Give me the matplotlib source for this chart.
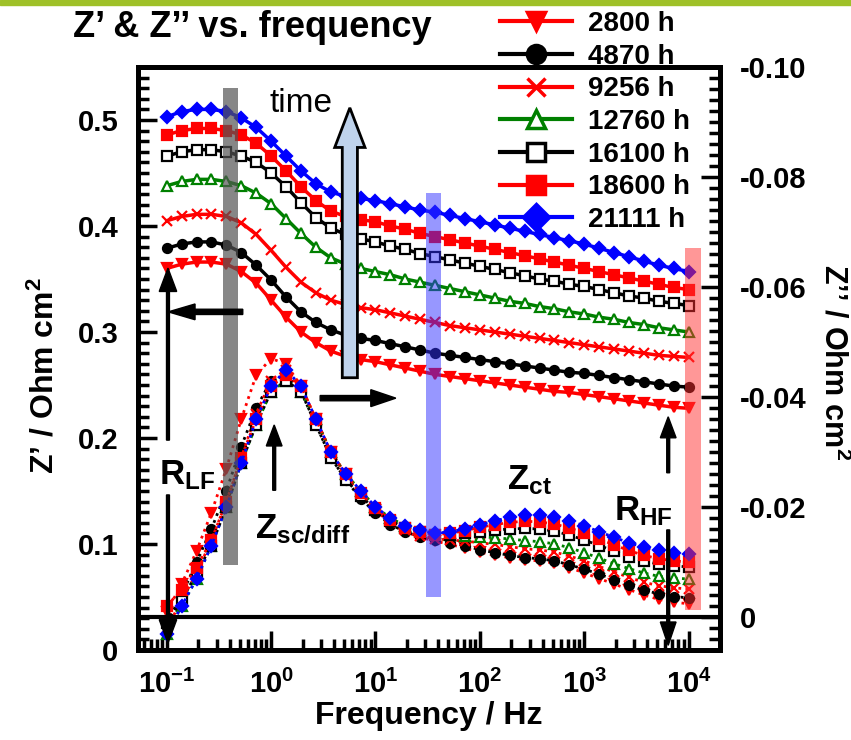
import numpy as np
import matplotlib
matplotlib.use("Agg")
import matplotlib.pyplot as plt
from matplotlib.lines import Line2D
from matplotlib.patches import FancyArrow, Rectangle
from matplotlib.ticker import MultipleLocator, LogLocator, NullFormatter, FuncFormatter, FixedLocator

plt.rcParams['font.family'] = ['Liberation Sans', 'DejaVu Sans']
plt.rcParams['font.weight'] = 'bold'
plt.rcParams['axes.labelweight'] = 'bold'
plt.rcParams['mathtext.fontset'] = 'custom'
plt.rcParams['mathtext.rm'] = 'Liberation Sans:bold'
plt.rcParams['mathtext.it'] = 'Liberation Sans:bold'
plt.rcParams['mathtext.bf'] = 'Liberation Sans:bold'
plt.rcParams['mathtext.default'] = 'rm'

############################################
### measured frequencies (Hz)
freq = [0.1, 0.139, 0.193, 0.268, 0.373, 0.518, 0.72,
        1.0, 1.39, 1.93, 2.68, 3.73, 5.18, 7.2,
        10, 13.9, 19.3, 26.8, 37.3, 51.8, 72,
        100, 139, 193, 268, 373, 518, 720,
        1000, 1390, 1930, 2680, 3730, 5180, 7200, 10000]

labels = ["2800 h", "4870 h", "9256 h", "12760 h", "16100 h", "18600 h", "21111 h"]

### Z' (Ohm cm2), left axis
zr_2800 = [0.360, 0.364, 0.366, 0.366, 0.364, 0.357, 0.346, 0.330, 0.314, 0.300, 0.290, 0.282,
           0.277, 0.274, 0.272, 0.269, 0.266, 0.263, 0.260, 0.258, 0.256, 0.254, 0.252, 0.250,
           0.248, 0.246, 0.244, 0.243, 0.241, 0.239, 0.237, 0.235, 0.233, 0.231, 0.229, 0.228]
zr_4870 = [0.379, 0.383, 0.385, 0.385, 0.382, 0.375, 0.363, 0.349, 0.333, 0.319, 0.309, 0.302,
           0.297, 0.294, 0.292, 0.289, 0.286, 0.283, 0.280, 0.278, 0.276, 0.274, 0.272, 0.270,
           0.268, 0.266, 0.264, 0.262, 0.261, 0.259, 0.257, 0.255, 0.253, 0.251, 0.249, 0.248]
zr_9256 = [0.405, 0.409, 0.411, 0.411, 0.409, 0.403, 0.392, 0.377, 0.361, 0.347, 0.337, 0.330,
           0.326, 0.323, 0.321, 0.318, 0.315, 0.312, 0.309, 0.306, 0.304, 0.302, 0.300, 0.298,
           0.296, 0.294, 0.292, 0.290, 0.288, 0.286, 0.284, 0.282, 0.280, 0.278, 0.277, 0.276]
zr_12760 = [0.438, 0.442, 0.444, 0.444, 0.442, 0.438, 0.431, 0.421, 0.407, 0.393, 0.380, 0.370,
            0.364, 0.360, 0.357, 0.354, 0.350, 0.347, 0.344, 0.341, 0.338, 0.335, 0.332, 0.329,
            0.327, 0.324, 0.322, 0.319, 0.317, 0.314, 0.312, 0.309, 0.307, 0.304, 0.302, 0.300]
zr_16100 = [0.466, 0.470, 0.472, 0.472, 0.470, 0.466, 0.460, 0.450, 0.437, 0.422, 0.408, 0.398,
            0.392, 0.388, 0.385, 0.381, 0.378, 0.374, 0.371, 0.368, 0.365, 0.362, 0.359, 0.356,
            0.353, 0.350, 0.348, 0.345, 0.343, 0.340, 0.337, 0.334, 0.332, 0.329, 0.327, 0.325]
zr_18600 = [0.486, 0.490, 0.492, 0.492, 0.490, 0.486, 0.478, 0.466, 0.452, 0.437, 0.424, 0.414,
            0.409, 0.406, 0.404, 0.400, 0.397, 0.393, 0.390, 0.387, 0.384, 0.381, 0.378, 0.375,
            0.372, 0.369, 0.366, 0.363, 0.360, 0.357, 0.354, 0.351, 0.348, 0.345, 0.342, 0.340]
zr_21111 = [0.503, 0.508, 0.510, 0.510, 0.508, 0.502, 0.493, 0.480, 0.466, 0.452, 0.440, 0.432,
            0.428, 0.426, 0.424, 0.421, 0.418, 0.415, 0.413, 0.410, 0.407, 0.404, 0.401, 0.398,
            0.395, 0.392, 0.389, 0.386, 0.383, 0.379, 0.375, 0.371, 0.367, 0.363, 0.360, 0.357]

### Z'' (Ohm cm2), right axis
zi_2800 = [-0.001, -0.006, -0.012, -0.019, -0.027, -0.036, -0.044, -0.047, -0.046, -0.042, -0.036, -0.030,
           -0.026, -0.022, -0.0195, -0.017, -0.0155, -0.0145, -0.0138, -0.0132, -0.0125, -0.0118, -0.0112, -0.0108,
           -0.0104, -0.0102, -0.0098, -0.0090, -0.0080, -0.0070, -0.0060, -0.0050, -0.0040, -0.0032, -0.0027, -0.0024]
zi_4870 = [0.001, -0.004, -0.010, -0.016, -0.023, -0.031, -0.038, -0.043, -0.044, -0.041, -0.035, -0.029,
           -0.025, -0.0215, -0.019, -0.0168, -0.0155, -0.0146, -0.0140, -0.0135, -0.0130, -0.0122, -0.0117, -0.0112,
           -0.0108, -0.0106, -0.0102, -0.0095, -0.0087, -0.0078, -0.0068, -0.0058, -0.0049, -0.0042, -0.0037, -0.0035]
zi_9256 = [0.002, -0.003, -0.008, -0.014, -0.021, -0.029, -0.037, -0.043, -0.045, -0.042, -0.036, -0.030,
           -0.026, -0.022, -0.0195, -0.0172, -0.0158, -0.0148, -0.0142, -0.0140, -0.0138, -0.0135, -0.0132, -0.0128,
           -0.0124, -0.0122, -0.0118, -0.0111, -0.0102, -0.0092, -0.0082, -0.0072, -0.0063, -0.0057, -0.0053, -0.0051]
zi_12760 = [0.003, -0.002, -0.007, -0.013, -0.020, -0.028, -0.035, -0.041, -0.043, -0.041, -0.036, -0.030,
            -0.026, -0.023, -0.020, -0.018, -0.0166, -0.0158, -0.0153, -0.0150, -0.0148, -0.0146, -0.0144, -0.0142,
            -0.0139, -0.0137, -0.0133, -0.0126, -0.0117, -0.0107, -0.0097, -0.0088, -0.0080, -0.0074, -0.0071, -0.0069]
zi_16100 = [0.001, -0.003, -0.008, -0.013, -0.020, -0.028, -0.035, -0.041, -0.043, -0.041, -0.035, -0.029,
            -0.025, -0.022, -0.0195, -0.0175, -0.0162, -0.0155, -0.0150, -0.0150, -0.0152, -0.0155, -0.0158, -0.0160,
            -0.0161, -0.0160, -0.0156, -0.0149, -0.0140, -0.0130, -0.0120, -0.0110, -0.0102, -0.0096, -0.0093, -0.0091]
zi_18600 = [-0.002, -0.005, -0.009, -0.014, -0.021, -0.029, -0.036, -0.042, -0.044, -0.042, -0.036, -0.030,
            -0.026, -0.0225, -0.0198, -0.0176, -0.0162, -0.0154, -0.0150, -0.0152, -0.0157, -0.0163, -0.0168, -0.0172,
            -0.0174, -0.0173, -0.0169, -0.0162, -0.0153, -0.0142, -0.0131, -0.0121, -0.0112, -0.0106, -0.0102, -0.0100]
zi_21111 = [0.003, -0.002, -0.007, -0.013, -0.020, -0.028, -0.036, -0.042, -0.045, -0.042, -0.036, -0.030,
            -0.026, -0.023, -0.020, -0.018, -0.0165, -0.0158, -0.0152, -0.0155, -0.0160, -0.0168, -0.0175, -0.0181,
            -0.0186, -0.0186, -0.0182, -0.0175, -0.0166, -0.0155, -0.0145, -0.0135, -0.0127, -0.0121, -0.0117, -0.0115]

zr_all = [zr_2800, zr_4870, zr_9256, zr_12760, zr_16100, zr_18600, zr_21111]
zi_all = [zi_2800, zi_4870, zi_9256, zi_12760, zi_16100, zi_18600, zi_21111]
############################################
colors  = ["red", "black", "red", "green", "black", "red", "blue"]
markers = ["v", "o", "x", "^", "s", "s", "D"]
faces   = ["red", "black", "red", "white", "white", "red", "blue"]

W, H = 851, 740
fig = plt.figure(figsize=(W/100, H/100), dpi=100)
ax = fig.add_axes([138/W, 1-650/H, 582/W, 583/H])
ax2 = ax.twinx()

## green bar on top of the slide
fig.patches.append(Rectangle((0, 1-5/H), 1, 5/H, transform=fig.transFigure,
                             color="#9fc128", zorder=0))

for zr, zi, c, m, f in zip(zr_all, zi_all, colors, markers, faces):
    ax.plot(freq, zr, color=c, lw=2.5, marker=m, ms=6.5, mfc=f, mec=c, mew=1.6)
    ax2.plot(freq, zi, color=c, lw=2.0, ls=":", marker=m, ms=6.5, mfc=f, mec=c, mew=1.6)

ax.set_xscale("log")
ax.set_xlim(0.053, 20000)
ax.set_ylim(0, 0.55)
ax2.set_ylim(0.006, -0.100)

ax.xaxis.set_major_locator(LogLocator(base=10, numticks=10))
ax.xaxis.set_minor_locator(LogLocator(base=10, subs=np.arange(2, 10), numticks=20))
ax.xaxis.set_minor_formatter(NullFormatter())
ax.yaxis.set_major_locator(FixedLocator([0, 0.1, 0.2, 0.3, 0.4, 0.5]))
ax.yaxis.set_minor_locator(MultipleLocator(0.01))
ax.yaxis.set_major_formatter(FuncFormatter(lambda v, p: "0" if abs(v) < 1e-9 else f"{v:.1f}"))
ax2.yaxis.set_major_locator(FixedLocator([0, -0.02, -0.04, -0.06, -0.08, -0.10]))
ax2.yaxis.set_minor_locator(MultipleLocator(0.002))
ax2.yaxis.set_major_formatter(FuncFormatter(lambda v, p: "0" if abs(v) < 1e-9 else f"{v:.2f}"))

ax.tick_params(axis="x", which="both", direction="in", top=False, width=2.5, labelsize=21, pad=14)
ax.tick_params(axis="x", which="major", length=14)
ax.tick_params(axis="x", which="minor", length=8)
ax.tick_params(axis="y", which="both", direction="in", right=False, width=2.5, labelsize=21, pad=14)
ax.tick_params(axis="y", which="major", length=14)
ax.tick_params(axis="y", which="minor", length=8)
ax2.tick_params(axis="y", which="both", direction="in", width=2.5, labelsize=21, pad=14)
ax2.tick_params(axis="y", which="major", length=14)
ax2.tick_params(axis="y", which="minor", length=8)
for a in (ax, ax2):
    for s in a.spines.values():
        s.set_linewidth(3.5)

ax.set_xlabel("Frequency / Hz", fontsize=23, labelpad=2)
ax.set_ylabel("Z’ / Ohm cm$^2$", fontsize=23)
ax.yaxis.set_label_coords(-0.133, 0.47)
ax2.set_ylabel("Z’’ / Ohm cm$^2$", fontsize=22, rotation=270)
ax2.yaxis.set_label_coords(1.222, 0.494)

## zero line of Z''
ax2.axhline(0, color="black", lw=3, zorder=4)

## highlighted frequency bands
ax2.axvspan(0.343, 0.479, ymin=0.146, ymax=0.964, color="#555555", alpha=0.7, lw=0, zorder=5)
ax2.axvspan(30.8, 42.8, ymin=0.091, ymax=0.784, color="#3030ff", alpha=0.5, lw=0, zorder=5)
ax2.axvspan(9270, 13200, ymin=0.069, ymax=0.69, color="#ff3030", alpha=0.5, lw=0, zorder=5)

T = ax2.transAxes
def arrow(x, y, dx, dy, w, hw, hl, **kw):
    ax2.add_patch(FancyArrow(x, y, dx, dy, width=w, head_width=hw, head_length=hl,
                             length_includes_head=True, transform=T, zorder=7, **kw))

## time arrow
arrow(0.364, 0.467, 0, 0.463, 0.026, 0.052, 0.068, fc="#bfd3ec", ec="black", lw=2)
ax2.text(0.280, 0.938, "time", transform=T, fontsize=24, fontweight="normal",
         ha="center", va="center", zorder=8)
## axis pointers
arrow(0.180, 0.580, -0.128, 0, 0.009, 0.027, 0.046, color="black")
arrow(0.313, 0.432, 0.130, 0, 0.009, 0.029, 0.043, color="black")
## R_LF
arrow(0.0515, 0.360, 0, 0.295, 0.005, 0.030, 0.040, color="black")
arrow(0.0515, 0.266, 0, -0.254, 0.005, 0.030, 0.040, color="black")
ax2.text(0.084, 0.300, r"R$_{\mathrm{LF}}$", transform=T, fontsize=25, ha="center", va="center", zorder=8)
## Z_sc/diff
arrow(0.234, 0.274, 0, 0.112, 0.005, 0.027, 0.036, color="black")
ax2.text(0.282, 0.208, r"Z$_{\mathrm{sc/diff}}$", transform=T, fontsize=25, ha="center", va="center", zorder=8)
## Z_ct
ax2.text(0.672, 0.292, r"Z$_{\mathrm{ct}}$", transform=T, fontsize=25, ha="center", va="center", zorder=8)
## R_HF
arrow(0.911, 0.304, 0, 0.096, 0.005, 0.027, 0.036, color="black")
arrow(0.911, 0.206, 0, -0.198, 0.005, 0.027, 0.040, color="black")
ax2.text(0.868, 0.238, r"R$_{\mathrm{HF}}$", transform=T, fontsize=25, ha="center", va="center", zorder=8)

## title
fig.text(73/W, 1-37/H, "Z’ & Z’’ vs. frequency", fontsize=26, ha="left", va="baseline")

## legend
handles = [Line2D([], [], color=c, lw=3, marker=m, ms=13, mfc=f, mec=c, mew=2.5)
           for c, m, f in zip(colors, markers, faces)]
fig.legend(handles, labels, loc="upper left", bbox_to_anchor=(500/W, 1-11/H), frameon=False,
           fontsize=20, handlelength=2.6, handletextpad=0.55, labelspacing=0.24,
           borderpad=0, borderaxespad=0)

plt.savefig("out.png", dpi=100)
